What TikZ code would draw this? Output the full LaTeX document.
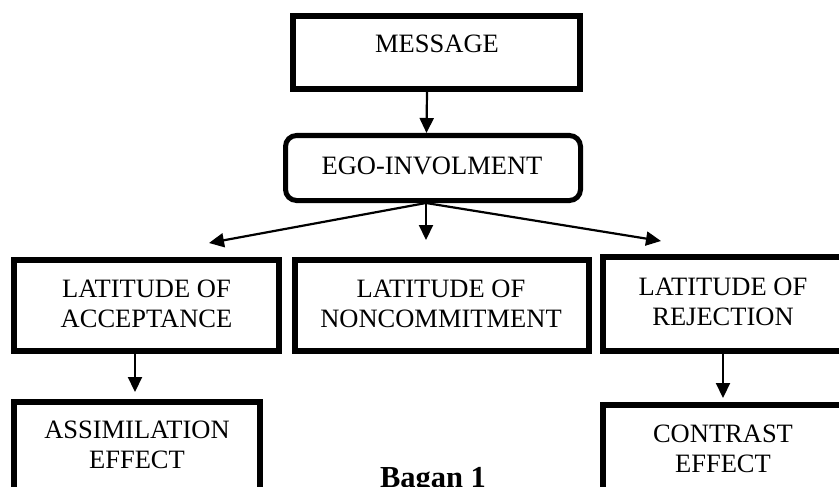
\documentclass[tikz,border=0pt]{standalone}
\usepackage{fontspec}
\setmainfont{Liberation Serif}
\usetikzlibrary{arrows.meta}
\tikzset{
  box/.style={draw=black, line width=6pt, inner sep=0pt, fill=none},
  rbox/.style={draw=black, line width=5pt, inner sep=0pt, rounded corners=11pt},
  lbl/.style={anchor=base, inner sep=0pt, font=\fontsize{26.5}{30}\selectfont},
  arr/.style={line width=2.2pt, -{Triangle[length=15pt,width=14pt]}},
}
\newcommand{\twol}[2]{\begin{tabular}[t]{@{}c@{}}#1\\#2\end{tabular}}
\begin{document}
\begin{tikzpicture}[x=1pt,y=-1pt]
\useasboundingbox (0,0) rectangle (839,487);
\begin{scope}
\clip (0,0) rectangle (839,487);
% boxes
\node[box, minimum width=287pt, minimum height=73pt] (msg) at (436.5,52.5) {};
\node[rbox, minimum width=295pt, minimum height=65pt] (ego) at (433,168) {};
\node[box, minimum width=265pt, minimum height=91pt] (acc) at (146.5,305.5) {};
\node[box, minimum width=294pt, minimum height=91pt] (non) at (442,305.5) {};
\node[box, minimum width=257pt, minimum height=94pt] (rej) at (731.5,304) {};
\node[box, minimum width=246pt, minimum height=118pt] (asm) at (137,461) {};
\node[box, minimum width=257pt, minimum height=115pt] (con) at (731.5,462.5) {};
% texts
\node[lbl] (tmsg) at (437,53) {MESSAGE};
\node[lbl] (tego) at (432,175) {EGO-INVOLMENT};
\node[lbl] (tacc) at (146.5,297) {\twol{LATITUDE OF}{ACCEPTANCE}};
\node[lbl] (tnon) at (441,297) {\twol{LATITUDE OF}{NONCOMMITMENT}};
\node[lbl] (trej) at (723,295) {\twol{LATITUDE OF}{REJECTION}};
\node[lbl] (tasm) at (137,438) {\twol{ASSIMILATION}{EFFECT}};
\node[lbl] (tcon) at (723,442) {\twol{CONTRAST}{EFFECT}};
\node[anchor=base, inner sep=0pt, font=\fontsize{30.5}{34}\selectfont\bfseries] (cap) at (433,487) {Bagan 1};
% arrow tips
\coordinate (t1) at (209,243);
\coordinate (t2) at (426,240);
\coordinate (t3) at (661,241);
% connectors
\draw[arr] ([xshift=-9.5pt]msg.south) -- ([xshift=-6.5pt]ego.north);
\draw[arr] ([xshift=-7pt]ego.south) -- (t1);
\draw[arr] ([xshift=-7pt]ego.south) -- (t2);
\draw[arr] ([xshift=-7pt]ego.south) -- (t3);
\draw[arr, shorten >=7pt] ([xshift=-11.5pt]acc.south) -- ([xshift=-2pt]asm.north);
\draw[arr, shorten >=4pt] ([xshift=-8.5pt]rej.south) -- ([xshift=-8.5pt]con.north);
\end{scope}
\end{tikzpicture}
\end{document}
